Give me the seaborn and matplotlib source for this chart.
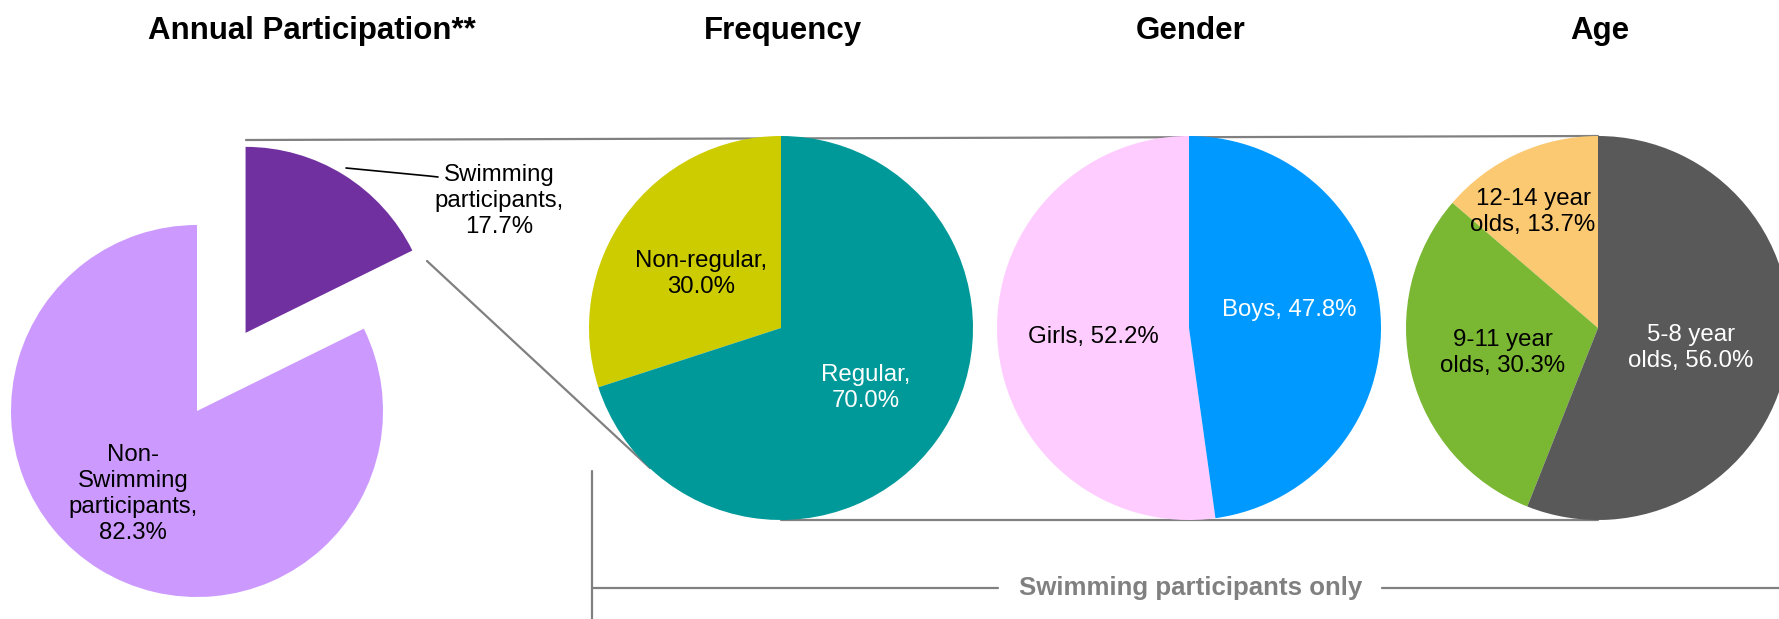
import matplotlib
matplotlib.use("Agg")
import matplotlib.pyplot as plt
import seaborn as sns

sns.set_theme(style="white")
plt.rcParams["font.family"] = ["Liberation Sans", "DejaVu Sans"]

# ---- data ----
titles = ["Annual Participation**", "Frequency", "Gender", "Age"]

annual_names = ["Swimming\nparticipants", "Non-\nSwimming\nparticipants"]
annual_values = [17.7, 82.3]
annual_colors = ["#7030A0", "#CC99FF"]

freq_names = ["Non-regular", "Regular"]
freq_values = [30.0, 70.0]
freq_colors = ["#CCCC00", "#009999"]

gender_names = ["Girls", "Boys"]
gender_values = [52.2, 47.8]
gender_colors = ["#FFCCFF", "#0099FF"]

age_names = ["12-14 year\nolds", "9-11 year\nolds", "5-8 year\nolds"]
age_values = [13.7, 30.3, 56.0]
age_colors = ["#FBC972", "#7AB733", "#595959"]

bracket_text = "Swimming participants only"

# ---- layout (pixels, y measured from top) ----
W, H = 1779, 619
def py(y):
    return H - y

fig = plt.figure(figsize=(W / 100, H / 100), dpi=100)
ax = fig.add_axes([0, 0, 1, 1])
GRAY = "#808080"

# connector lines (behind the pies)
ax.plot([246, 1598], [py(140), py(136)], color=GRAY, lw=1.6, zorder=0)
ax.plot([781, 1598], [py(520), py(520)], color=GRAY, lw=1.6, zorder=0)
ax.plot([427, 650], [py(261), py(468)], color=GRAY, lw=1.6, zorder=0)

# annual participation pie, swimming slice pulled out
ax.pie(annual_values, colors=annual_colors, center=(197, py(411)), radius=186,
       startangle=90, counterclock=False, explode=[92, 0],
       wedgeprops=dict(linewidth=0))

R = 192
pies = [
    (freq_values, freq_colors, 781),
    (gender_values, gender_colors, 1189),
    (age_values, age_colors, 1598),
]
for vals, cols, cx in pies:
    ax.pie(vals, colors=cols, center=(cx, py(328)), radius=R,
           startangle=90, counterclock=True, wedgeprops=dict(linewidth=0))

# data labels
def lab(name, v, sep):
    return f"{name},{sep}{v:.1f}%"

label_fs = 17.3
txt = dict(ha="center", va="center", fontsize=label_fs, linespacing=1.25, zorder=5)

ax.text(499, py(201), lab(annual_names[0], annual_values[0], "\n"), color="black", **txt)
ax.text(133, py(494), lab(annual_names[1], annual_values[1], "\n"), color="black", **txt)
ax.plot([346, 429, 438], [py(168), py(176), py(177)], color="black", lw=1.2, zorder=5)

ax.text(781 - 80, py(274), lab(freq_names[0], freq_values[0], "\n"), color="black", **txt)
ax.text(781 + 85, py(388), lab(freq_names[1], freq_values[1], "\n"), color="white", **txt)

ax.text(1189 - 96, py(337), lab(gender_names[0], gender_values[0], " "), color="black", **txt)
ax.text(1189 + 100, py(310), lab(gender_names[1], gender_values[1], " "), color="white", **txt)

ax.text(1598 - 65, py(212), lab(age_names[0], age_values[0], " "), color="black", **txt)
ax.text(1598 - 95, py(353), lab(age_names[1], age_values[1], " "), color="black", **txt)
ax.text(1598 + 93, py(348), lab(age_names[2], age_values[2], " "), color="white", **txt)

# titles
for t, x in zip(titles, [312, 783, 1191, 1600]):
    ax.text(x, py(31), t, ha="center", va="center", fontsize=22.5, fontweight="bold",
            color="black")

# bracket for the breakdown pies
ax.plot([592, 592], [py(471), py(619)], color=GRAY, lw=1.6)
ax.plot([592, 998], [py(588), py(588)], color=GRAY, lw=1.6)
ax.plot([1382, W], [py(588), py(588)], color=GRAY, lw=1.6)
ax.text(1191, py(588), bracket_text, ha="center", va="center", fontsize=18.6,
        fontweight="bold", color=GRAY)

ax.set_xlim(0, W)
ax.set_ylim(0, H)
ax.set_aspect("equal")
ax.set_position([0, 0, 1, 1])
ax.axis("off")

fig.savefig("out.png", dpi=100)
